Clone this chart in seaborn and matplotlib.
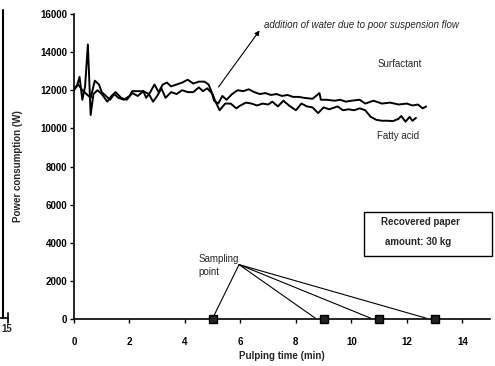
import numpy as np
import pandas as pd
import matplotlib
matplotlib.use("Agg")
import matplotlib.pyplot as plt
import seaborn as sns
from matplotlib.lines import Line2D
from matplotlib.patches import Rectangle

sns.set_theme(style="white")
plt.rcParams['font.family'] = ['Liberation Sans', 'DejaVu Sans']

# --- data ---
surf_t = [0.0, 0.15, 0.3, 0.45, 0.6, 0.75, 0.9, 1.0, 1.15, 1.3, 1.45, 1.6, 1.8, 2.0, 2.1, 2.5,
          2.6, 2.75, 2.9, 3.05, 3.2, 3.35, 3.5, 3.7, 3.9, 4.1, 4.3, 4.5, 4.7, 4.85, 4.95, 5.05,
          5.2, 5.35, 5.5, 5.7, 5.9, 6.1, 6.3, 6.5, 6.7, 6.9, 7.1, 7.3, 7.5, 7.7, 7.9, 8.1, 8.3,
          8.6, 8.85, 8.9, 9.1, 9.4, 9.6, 9.8, 10.0, 10.3, 10.5, 10.8, 11.1, 11.4, 11.7, 12.0,
          12.2, 12.4, 12.57, 12.7]
surf_p = [12100, 12300, 12000, 11800, 11600, 12500, 12300, 11900, 11700, 11500, 11800, 11600,
          11500, 11700, 11950, 11950, 11600, 11900, 12300, 11900, 12300, 12400, 12200, 12300,
          12400, 12550, 12350, 12450, 12450, 12300, 11950, 11450, 11300, 11700, 11500, 11800,
          12000, 11950, 12050, 11900, 11800, 11850, 11750, 11800, 11700, 11750, 11650, 11650,
          11600, 11550, 11850, 11500, 11500, 11450, 11500, 11400, 11450, 11500, 11300, 11450,
          11300, 11350, 11250, 11300, 11200, 11250, 11050, 11150]

fatty_t = [0.0, 0.1, 0.2, 0.3, 0.4, 0.5, 0.6, 0.7, 0.85, 1.0, 1.2, 1.35, 1.5, 1.7, 1.9, 2.1,
           2.3, 2.5, 2.7, 2.85, 3.0, 3.15, 3.3, 3.5, 3.7, 3.9, 4.1, 4.3, 4.5, 4.65, 4.8, 5.0,
           5.1, 5.25, 5.45, 5.65, 5.85, 6.0, 6.2, 6.4, 6.6, 6.8, 7.0, 7.15, 7.35, 7.55, 7.75,
           8.0, 8.2, 8.4, 8.6, 8.8, 9.0, 9.2, 9.5, 9.7, 9.9, 10.1, 10.3, 10.5, 10.7, 10.9, 11.1,
           11.3, 11.5, 11.7, 11.8, 11.95, 12.1, 12.2, 12.33]
fatty_p = [12000, 12200, 12700, 11500, 12200, 14400, 10700, 11800, 12000, 11800, 11400, 11700,
           11900, 11600, 11500, 11850, 11700, 11950, 11800, 11400, 11700, 12100, 11600, 11900,
           11800, 12000, 11900, 11900, 12150, 11950, 12100, 11800, 11400, 10950, 11300, 11300,
           11050, 11200, 11350, 11300, 11200, 11300, 11250, 11400, 11150, 11450, 11200, 10950,
           11300, 11150, 11100, 10800, 11100, 11000, 11150, 10950, 11000, 10950, 11050, 10950,
           10600, 10450, 10400, 10400, 10380, 10500, 10650, 10350, 10600, 10400, 10550]

sample_t = [5, 9, 11, 13]
sample_p = [0, 0, 0, 0]

x_ticks = [0, 2, 4, 6, 8, 10, 12, 14]
y_ticks = [0, 2000, 4000, 6000, 8000, 10000, 12000, 14000, 16000]

df = pd.concat([
    pd.DataFrame({"t": surf_t, "P": surf_p, "series": "Surfactant"}),
    pd.DataFrame({"t": fatty_t, "P": fatty_p, "series": "Fatty acid"}),
])

fig = plt.figure(figsize=(4.95, 3.66), dpi=100)
ax = fig.add_axes([0.1495, 0.128, 0.8405, 0.834])

sns.lineplot(data=df, x="t", y="P", units="series", estimator=None, color="black",
             linewidth=1.4, sort=False, legend=False, ax=ax)

# sampling points
ax.plot(sample_t, sample_p, linestyle="none", marker="s", markersize=6,
        markerfacecolor="#222222", markeredgecolor="black", zorder=5, clip_on=False)

ax.set_xlim(0, 15)
ax.set_ylim(0, 16000)
ax.set_xticks(x_ticks)
ax.set_yticks(y_ticks)
ax.tick_params(axis="both", direction="out", length=3, width=1, labelsize=7, colors="black",
               pad=2, bottom=True, left=True)
for lab in ax.get_xticklabels() + ax.get_yticklabels():
    lab.set_fontweight("bold")
ax.xaxis.set_tick_params(pad=10)

for s in ["top", "right"]:
    ax.spines[s].set_visible(False)
for s in ["left", "bottom"]:
    ax.spines[s].set_color("black")
    ax.spines[s].set_linewidth(1.2)

ax.set_xlabel("Pulping time (min)", fontsize=7, fontweight="bold", labelpad=3)
ax.set_ylabel("Power consumption (W)", fontsize=7, fontweight="bold", labelpad=12)

# annotations
ax.text(6.85, 15400, "addition of water due to poor suspension flow", fontsize=7,
        style="italic", va="center", ha="left")
ax.annotate("", xy=(6.75, 15250), xytext=(5.15, 12050),
            arrowprops=dict(arrowstyle="-|>", color="black", lw=0.8, mutation_scale=7))
ax.text(11.75, 13400, "Surfactant", fontsize=7, ha="center", va="center")
ax.text(11.7, 9600, "Fatty acid", fontsize=7, ha="center", va="center")

ax.text(4.5, 3150, "Sampling", fontsize=7, ha="left", va="center")
ax.text(4.5, 2450, "point", fontsize=7, ha="left", va="center")
for st in sample_t:
    ax.plot([5.95, st - (0.0 if st == 5 else 0.3)], [2860, 50], color="black", lw=0.8)

ax.add_patch(Rectangle((10.47, 3333), 4.6, 2281, facecolor="white", edgecolor="black",
                       lw=1.0, clip_on=False, zorder=4))
ax.text(12.5, 5090, "Recovered paper", fontsize=7, fontweight="bold", ha="center",
        va="center", zorder=5)
ax.text(12.4, 4050, "amount: 30 kg", fontsize=7, fontweight="bold", ha="center",
        va="center", zorder=5)

# left scan edge remnant
fig.add_artist(Line2D([3 / 495, 3 / 495], [1 - 10 / 366, 1 - 318 / 366], color="black", lw=1.5))
fig.add_artist(Line2D([0, 8 / 495], [1 - 318 / 366, 1 - 318 / 366], color="black", lw=1.2))
fig.add_artist(Line2D([8 / 495, 8 / 495], [1 - 313 / 366, 1 - 323 / 366], color="black", lw=1.2))
fig.text(1 / 495, 1 - 329 / 366, "15", fontsize=7, fontweight="bold", ha="left", va="center")

fig.savefig("out.png", dpi=100)
